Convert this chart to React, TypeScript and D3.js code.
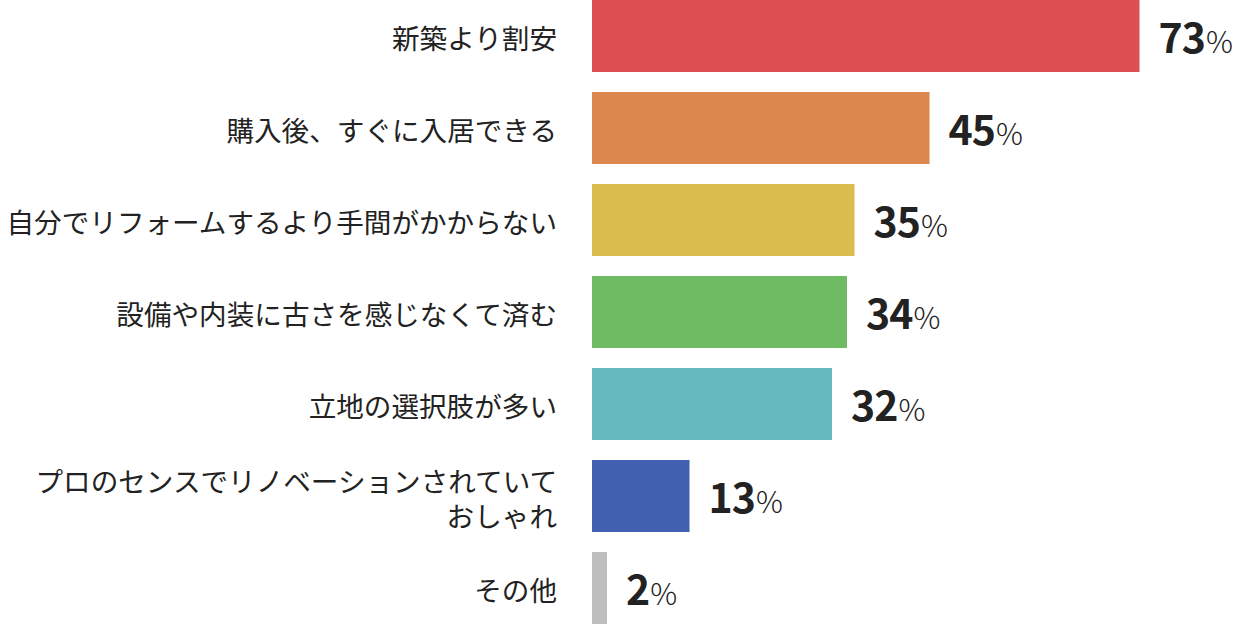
import React from "react";
import * as d3 from "d3";

const categories: string[][] = [
  ["新築より割安"],
  ["購入後、すぐに入居できる"],
  ["自分でリフォームするより手間がかからない"],
  ["設備や内装に古さを感じなくて済む"],
  ["立地の選択肢が多い"],
  ["プロのセンスでリノベーションされていて", "おしゃれ"],
  ["その他"],
];
const values: number[] = [73, 45, 35, 34, 32, 13, 2];
const colors: string[] = ["#DC4E4F", "#DB874E", "#DBBD4F", "#6FBB63", "#66B9BC", "#4160B0", "#BEBEBE"];

const W = 1242;
const H = 624;
const x0 = 592;
const font = "'Noto Sans CJK JP', 'Noto Sans', sans-serif";

export default function App() {
  const x = d3.scaleLinear().domain([0, 100]).range([x0, x0 + 750]);
  const y = d3
    .scaleBand<number>()
    .domain(d3.range(values.length))
    .range([0, H])
    .paddingInner(20 / 92)
    .paddingOuter(0);
  const bh = y.bandwidth();
  return (
    <svg width={W} height={H} style={{ position: "absolute", left: 0, top: 0, background: "#fff" }} fontFamily={font}>
      {values.map((v, i) => {
        const yi = y(i)!;
        const cy = yi + bh / 2;
        const lines = categories[i];
        const lh = 35;
        return (
          <g key={i}>
            <rect x={x(0)} y={yi} width={x(v) - x(0)} height={bh} fill={colors[i]} />
            <text x={557} textAnchor="end" fontSize={27.6} fill="#222" dominantBaseline="central">
              {lines.map((l, j) => (
                <tspan key={j} x={557} y={cy + 1 + (j - (lines.length - 1) / 2) * lh}>
                  {l}
                </tspan>
              ))}
            </text>
            <text x={x(v) + 19} y={cy + 17} fill="#222">
              <tspan fontSize={41} fontWeight={700} letterSpacing={-1}>{v}</tspan>
              <tspan fontSize={30} fontWeight={300} dx={1}>%</tspan>
            </text>
          </g>
        );
      })}
    </svg>
  );
}
